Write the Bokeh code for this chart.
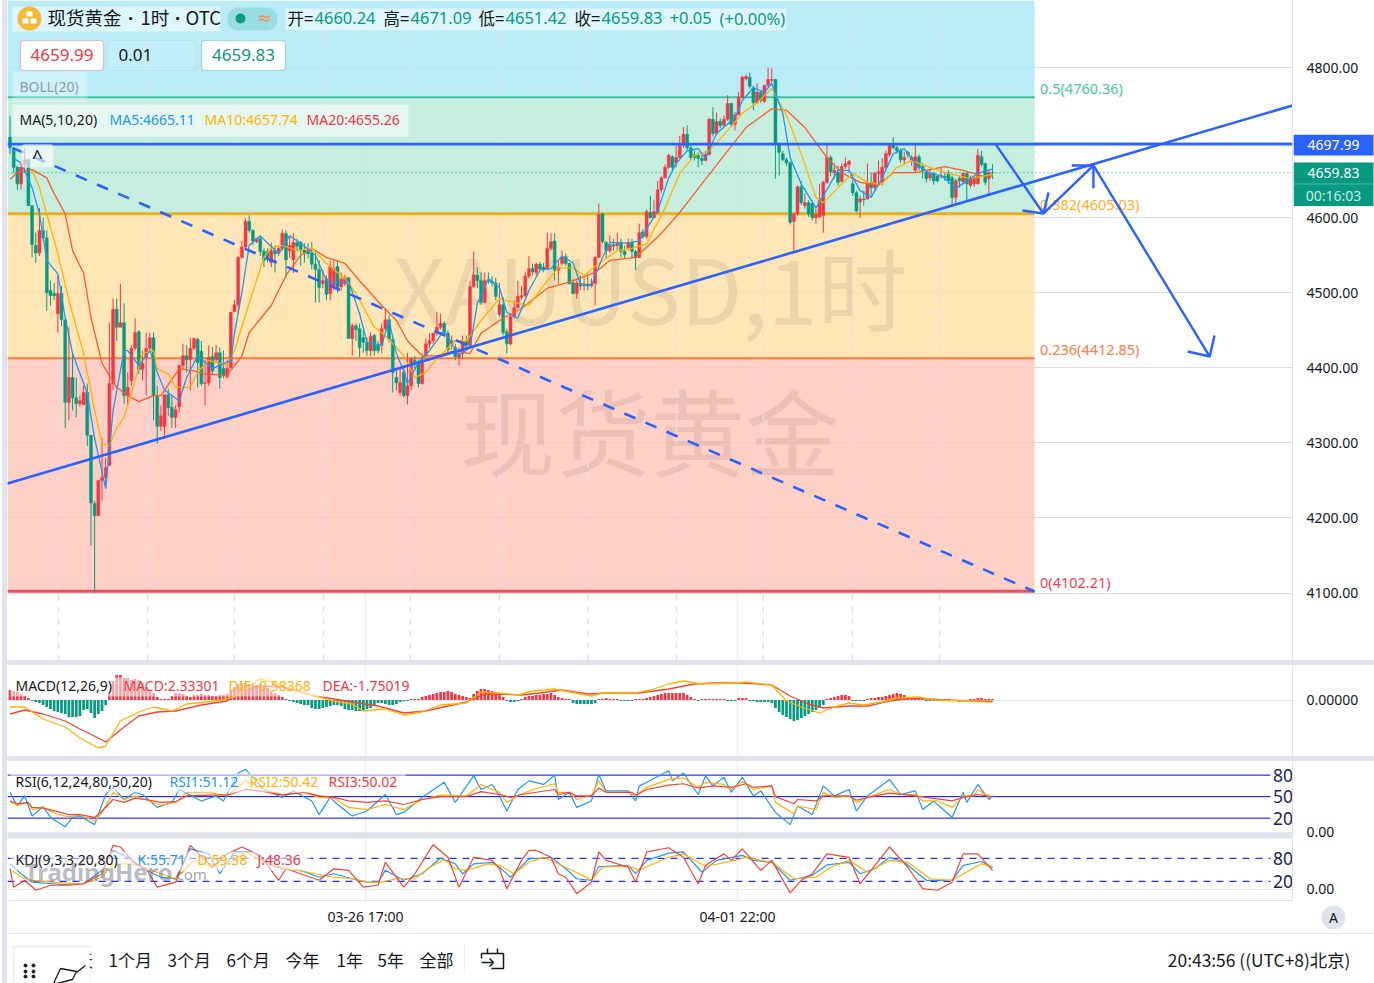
from bokeh.plotting import figure
from bokeh.layouts import column, row
from bokeh.models import (BoxAnnotation, ColumnDataSource, Div, FixedTicker, Label,
                          NumeralTickFormatter, Range1d, Spacer)
from bokeh.core.properties import value
from bokeh.embed import file_html
from bokeh.resources import INLINE

# ---------- candles (1h bars) ----------
opens = [
 4707,4692,4667,4645,4671,4677,4616,4563,4553,4583, 4573,4503,4499,4472,4499,4464,4354,4387,4360,4352,
 4351,4367,4310,4219,4203,4250,4254,4270,4379,4478, 4454,4460,4363,4383,4426,4448,4398,4414,4426,4440,
 4363,4322,4322,4364,4347,4334,4348,4403,4416,4411, 4426,4438,4422,4379,4380,4415,4411,4420,4399,4388,
 4400,4475,4484,4547,4561,4595,4583,4568,4572,4555, 4555,4540,4556,4553,4559,4579,4556,4544,4567,4567,
 4557,4556,4553,4538,4531,4512,4518,4499,4509,4535, 4508,4512,4520,4439,4456,4452,4440,4434,4423,4443,
 4430,4430,4452,4464,4438,4387,4367,4394,4363,4376, 4410,4406,4379,4416,4432,4436,4446,4454,4459,4446,
 4432,4427,4414,4419,4436,4430,4508,4523,4516,4487, 4516,4515,4513,4471,4484,4448,4432,4468,4480,4494,
 4496,4522,4532,4527,4538,4534,4532,4559,4569,4530, 4539,4548,4539,4513,4499,4512,4509,4511,4509,4512,
 4547,4605,4567,4556,4564,4563,4567,4555,4560,4567, 4555,4547,4581,4575,4607,4600,4607,4637,4653,4667,
 4681,4673,4680,4696,4711,4693,4684,4683,4679,4676, 4684,4731,4712,4728,4723,4731,4752,4724,4737,4760,
 4785,4787,4773,4753,4767,4755,4776,4783,4784,4697, 4685,4677,4673,4595,4605,4641,4616,4620,4619,4600,
 4601,4603,4647,4680,4660,4660,4648,4668,4671,4645, 4633,4621,4625,4625,4647,4640,4659,4647,4667,4684,
 4696,4693,4689,4677,4687,4676,4663,4681,4668,4660, 4653,4659,4655,4655,4655,4660,4653,4627,4652,4648,
 4659,4643,4645,4645,4681,4672,4652,4660.24]
closes = [
 4693,4667,4645,4667,4677,4616,4564,4553,4583,4573, 4500,4496,4496,4499,4464,4354,4387,4360,4352,4356,
 4367,4310,4220,4203,4250,4254,4267,4379,4478,4454, 4460,4363,4374,4426,4447,4398,4406,4426,4440,4363,
 4322,4336,4364,4347,4334,4344,4403,4416,4411,4426, 4439,4407,4379,4380,4414,4396,4420,4387,4390,4399,
 4474,4484,4547,4561,4595,4583,4569,4572,4555,4543, 4548,4556,4552,4559,4579,4544,4563,4567,4562,4556,
 4553,4552,4538,4531,4507,4516,4498,4535,4532,4507, 4518,4520,4439,4456,4451,4427,4434,4423,4442,4423,
 4423,4452,4464,4438,4394,4380,4380,4363,4376,4412, 4406,4379,4407,4432,4436,4446,4454,4459,4447,4424,
 4436,4415,4419,4436,4430,4508,4524,4516,4487,4516, 4515,4513,4495,4484,4447,4432,4468,4480,4495,4496,
 4522,4532,4528,4538,4532,4531,4559,4568,4530,4534, 4547,4539,4512,4499,4513,4509,4510,4509,4512,4547,
 4604,4568,4556,4564,4562,4566,4555,4551,4567,4555, 4547,4580,4575,4608,4600,4608,4637,4653,4667,4683,
 4667,4680,4696,4711,4693,4680,4680,4679,4676,4684, 4731,4712,4728,4723,4731,4752,4724,4737,4760,4787,
 4788,4775,4753,4767,4756,4776,4784,4784,4699,4687, 4677,4673,4594,4605,4641,4620,4620,4605,4600,4604,
 4625,4647,4680,4661,4663,4647,4668,4672,4675,4633, 4609,4625,4624,4647,4640,4659,4661,4667,4685,4696,
 4693,4689,4677,4680,4684,4680,4681,4667,4663,4652, 4659,4649,4649,4656,4653,4649,4627,4649,4649,4659,
 4645,4653,4653,4683,4671,4647,4660,4659.83]
highs = [
 4735,4693,4669,4672,4693,4679,4616,4580,4613,4600, 4583,4516,4513,4523,4509,4464,4454,4420,4387,4363,
 4376,4379,4310,4223,4250,4307,4280,4460,4492,4492, 4512,4486,4394,4430,4466,4450,4423,4447,4447,4447,
 4376,4350,4364,4372,4363,4350,4403,4432,4430,4440, 4440,4440,4436,4410,4430,4428,4430,4427,4423,4410,
 4474,4490,4549,4569,4599,4603,4585,4573,4575,4559, 4559,4567,4563,4563,4584,4583,4576,4579,4572,4569,
 4566,4566,4568,4556,4543,4530,4523,4543,4543,4543, 4527,4524,4520,4459,4459,4459,4450,4440,4447,4445,
 4436,4459,4479,4470,4439,4400,4400,4403,4420,4414, 4416,4410,4419,4439,4446,4447,4474,4472,4462,4450,
 4443,4432,4427,4443,4443,4516,4555,4534,4527,4527, 4527,4522,4520,4513,4494,4452,4471,4490,4516,4509,
 4527,4549,4539,4540,4541,4540,4580,4579,4579,4543, 4556,4552,4540,4518,4516,4523,4520,4523,4519,4549,
 4619,4607,4569,4576,4572,4580,4572,4563,4572,4572, 4557,4592,4585,4611,4629,4623,4649,4655,4671,4685,
 4683,4696,4709,4721,4723,4699,4689,4687,4684,4689, 4733,4747,4740,4732,4736,4763,4753,4741,4767,4789,
 4791,4793,4776,4779,4769,4777,4800,4799,4785,4699, 4689,4680,4675,4607,4643,4649,4632,4623,4623,4612,
 4645,4649,4700,4683,4672,4669,4672,4680,4677,4659, 4636,4629,4636,4672,4660,4661,4676,4679,4689,4697,
 4707,4696,4692,4688,4689,4683,4697,4684,4673,4663, 4665,4661,4657,4667,4660,4663,4656,4652,4655,4660,
 4661,4656,4656,4691,4689,4673,4663,4671.09]
lows = [
 4685,4659,4637,4637,4660,4616,4547,4540,4549,4569, 4476,4483,4490,4447,4456,4320,4330,4343,4334,4348,
 4350,4296,4163,4100,4203,4223,4239,4270,4370,4436, 4454,4352,4351,4376,4423,4392,4383,4363,4423,4330,
 4299,4316,4306,4336,4320,4320,4340,4399,4394,4370, 4423,4374,4376,4350,4376,4390,4407,4372,4386,4386,
 4400,4474,4472,4546,4560,4580,4563,4566,4549,4534, 4540,4534,4527,4549,4556,4520,4546,4526,4555,4536,
 4540,4546,4531,4487,4487,4506,4490,4490,4503,4500, 4503,4509,4439,4416,4436,4414,4420,4416,4416,4416,
 4419,4419,4450,4434,4367,4370,4363,4360,4351,4370, 4396,4374,4378,4415,4426,4432,4443,4451,4443,4420,
 4424,4410,4403,4412,4423,4427,4507,4506,4484,4486, 4512,4508,4490,4468,4443,4419,4430,4466,4479,4491,
 4494,4519,4523,4523,4530,4527,4531,4556,4516,4512, 4536,4536,4511,4498,4492,4503,4503,4503,4507,4483,
 4546,4566,4546,4553,4556,4556,4547,4546,4556,4546, 4530,4546,4572,4572,4599,4599,4605,4633,4652,4665,
 4663,4667,4679,4693,4689,4676,4676,4667,4670,4675, 4683,4708,4711,4719,4721,4729,4721,4716,4736,4759,
 4783,4772,4743,4752,4753,4753,4775,4780,4652,4656, 4675,4669,4591,4553,4603,4617,4612,4601,4596,4592,
 4600,4580,4645,4655,4652,4643,4647,4665,4660,4629, 4607,4600,4616,4624,4629,4636,4643,4643,4665,4681,
 4691,4685,4673,4672,4680,4669,4660,4663,4652,4647, 4649,4644,4647,4652,4649,4645,4616,4619,4640,4645,
 4623,4640,4641,4644,4668,4643,4629,4651.42]

# ---------- moving averages, read at the line's turning points ----------
ma20_x = [0,2,6,10,12,15,17,20,22,25,29,32,35,39,41,46,50,53,59,63,65,71,75,79,82,86,91,95,101,105,108,112,116,121,125,128,134,139,146,152,159,163,170,177,182,188,195,200,207,211,216,222,226,231,236,240,246,254,259,264,267]
ma20_y = [4651,4660,4664,4653,4632,4605,4556,4526,4467,4406,4374,4363,4355,4363,4363,4399,4396,4392,4390,4416,4447,4483,4523,4550,4559,4547,4539,4516,4483,4463,4436,4416,4416,4423,4419,4446,4466,4479,4506,4514,4527,4543,4547,4579,4607,4645,4689,4720,4745,4743,4720,4680,4660,4647,4643,4660,4660,4668,4663,4656,4655.26]
ma10_x = [6,8,10,13,16,20,23,25,27,29,31,34,36,39,40,43,45,49,51,54,59,61,65,69,71,74,78,82,86,91,94,99,101,105,107,110,113,116,121,124,128,133,137,141,146,149,153,156,160,165,169,173,178,182,186,190,195,199,203,207,211,215,219,221,225,229,233,237,241,245,250,255,261,267]
ma10_y = [4663,4640,4605,4552,4490,4419,4343,4299,4296,4320,4334,4383,4419,4423,4399,4392,4374,4374,4394,4410,4403,4423,4486,4547,4560,4563,4556,4559,4539,4519,4499,4454,4447,4427,4416,4387,4394,4412,4436,4436,4463,4492,4487,4483,4516,4533,4533,4523,4539,4556,4559,4565,4613,4659,4683,4689,4716,4739,4753,4772,4736,4685,4627,4620,4640,4659,4647,4645,4667,4676,4667,4659,4652,4657.74]
ma5_x = [1,3,6,8,10,13,15,17,21,23,26,28,31,32,35,38,40,42,46,48,51,55,60,61,63,65,68,70,73,76,79,83,86,90,92,95,97,101,103,105,107,108,111,114,118,122,125,127,130,133,135,138,141,144,147,150,153,155,158,161,163,168,171,176,179,181,184,187,189,192,197,199,202,205,207,210,212,215,219,221,225,228,231,234,237,240,243,246,250,253,257,261,263,267]
ma5_y = [4679,4673,4640,4605,4543,4525,4467,4419,4366,4306,4239,4343,4423,4423,4403,4423,4394,4370,4356,4387,4416,4399,4410,4446,4500,4563,4576,4566,4552,4576,4566,4550,4516,4512,4516,4472,4434,4430,4463,4419,4396,4379,4407,4423,4450,4416,4427,4486,4519,4507,4474,4466,4503,4530,4532,4549,4540,4512,4510,4547,4567,4566,4569,4609,4653,4672,4689,4692,4679,4712,4733,4756,4773,4767,4779,4739,4680,4645,4613,4629,4663,4663,4636,4627,4653,4685,4692,4672,4659,4656,4639,4652,4659,4665.11]

# ---------- MACD ----------
macd_hist = [
 10,9,8,6,4,2,-1,-2,-3,-5, -7,-9,-11,-12,-13,-14,-17,-17,-17,-16, -10,-9,-13,-18,-14,-11,-5,6,19,25,
 25,22,22,20,21,20,17,13,10,7, 3,1,1,1,4,7,7,6,4,3, 5,5,6,5,5,4,4,5,5,6, 9,13,16,17,17,16,15,15,16,14,
 12,9,7,5,3,1,-1,-2,-3,-4, -5,-5,-8,-9,-9,-8,-7,-6,-5,-5, -6,-9,-10,-10,-11,-11,-10,-9,-8,-6,
 -3,-3,-4,-5,-5,-4,-2,-1,-1,1, 1,1,3,4,5,6,7,8,8,9, 8,6,5,4,3,2,6,9,11,11, 10,9,8,7,
 3,-1,-2,-2,-1,1, 3,4,4,5,5,6,6,7, 5,3,2,1,1, -3,-4,-4,-4,-4,-4,-3, 1,1,2,1,1,1, -1,-1,-1,-1,1,1,
 1,2,3,4,5,6,7,7,7,7,7,7,5,3,1, -1, 1,1,1,1,1,1,1, -1,-1,-1, 2,2,2, -1,-1,-2,-2,-2,-2,
 -3,-8,-12,-15,-17,-19,-21,-20,-18,-16,-14,-12,-10,-8,-5, 1,2,3,4,5,5,4, -1,-1,-1,-1,
 1,2,2,3,3,4,5,6,7,6,5,3,2, 1,1,1,-1,-1,-1,-1,-1,1,1,-1,-1,-2,-1,-1,1,1,2,2,1,1,1]
dif_x = [0,4,9,15,19,24,26,30,35,39,44,48,56,61,68,73,79,88,93,96,102,107,112,117,124,128,133,138,142,148,152,158,161,170,174,179,183,188,197,200,207,211,215,220,224,228,232,237,241,247,251,260,267]
dif_y = [-7,-7,-19,-27,-38,-48,-46,-21,-12,-7,-11,-4,-1,3,21,16,8,-1,-4,-11,-9,-15,-12,-5,-3,8,7,5,9,11,8,4,7,7,10,16,19,16,17,18,15,-1,-7,-13,-7,-3,-5,-2,2,3,0,-1,-0.58]
dea_x = [0,4,9,15,19,24,26,31,35,40,45,52,59,63,68,74,83,93,100,107,113,119,124,129,133,139,144,150,157,162,171,179,186,191,199,207,212,217,221,228,233,239,245,254,267]
dea_y = [-14,-10,-14,-21,-29,-38,-42,-27,-16,-12,-11,-5,-1,8,14,13,4,-2,-6,-13,-11,-6,-2,6,6,5,7,10,6,7,7,11,16,17,17,15,4,-4,-8,-6,-6,-1,2,0,-1.75]

# ---------- RSI ----------
rsi_levels = [80, 50, 20]
rsi1_x = [0,2,4,6,9,11,15,17,19,23,26,28,31,34,36,40,44,46,52,56,58,62,64,69,74,77,82,84,87,89,93,97,102,105,107,112,118,121,126,128,131,133,135,138,141,145,148,149,152,154,158,160,162,168,170,171,173,179,180,183,187,189,191,194,196,199,202,204,208,212,214,218,221,224,228,230,233,239,242,246,248,251,256,259,260,263,266,267]
rsi1_y = [56,37,51,23,36,21,8,21,23,11,53,63,46,56,53,35,42,60,44,51,44,83,88,60,49,58,44,25,49,39,23,30,53,25,28,49,70,42,79,60,67,51,30,60,72,67,80,46,56,35,44,81,58,58,44,65,70,86,72,83,53,79,65,77,56,77,51,58,28,11,37,25,65,51,60,30,51,74,53,58,32,44,21,56,42,67,46,51.12]
rsi2_x = [0,2,5,6,9,13,16,19,23,25,28,31,34,38,41,45,48,54,59,64,69,74,80,84,88,92,97,102,107,112,117,124,128,133,135,138,142,148,149,152,154,158,160,162,168,170,173,179,183,187,189,194,196,199,202,207,208,213,214,219,221,224,228,230,233,239,242,246,248,252,256,259,262,263,266,267]
rsi2_y = [43,38,42,32,35,25,22,24,16,28,56,46,51,44,38,42,56,56,51,72,60,53,56,49,48,35,32,39,32,46,52,51,67,56,42,51,60,68,56,56,46,52,72,56,56,51,63,74,76,63,70,67,60,71,60,65,42,26,37,32,56,49,51,42,49,60,53,53,44,44,35,51,51,60,49,50.42]
rsi3_x = [0,2,5,6,9,13,16,19,23,25,28,31,34,38,41,45,48,54,59,64,69,74,80,84,88,92,97,102,107,112,117,124,128,133,136,139,148,149,152,154,158,160,162,169,170,173,179,183,187,191,196,200,202,207,208,213,214,219,221,228,230,233,239,246,249,256,259,263,267]
rsi3_y = [44,40,42,35,34,29,25,25,21,30,46,42,48,45,42,43,51,52,52,60,57,52,56,51,49,44,42,44,39,46,50,50,57,53,49,53,60,53,56,51,51,62,56,56,52,60,66,68,62,65,63,68,63,65,50,40,46,44,51,51,45,49,55,51,49,44,49,53,50.02]

# ---------- KDJ ----------
kdj_levels = [80, 20]
k_x = [0,3,6,14,20,25,28,32,35,39,41,45,49,54,57,61,66,70,74,79,84,88,93,97,100,102,107,112,117,121,123,126,131,133,136,141,147,151,154,158,160,168,170,173,179,183,188,192,199,202,207,212,218,222,228,231,235,239,243,249,256,259,264,267]
k_y = [66,40,18,12,14,49,101,83,62,40,31,27,105,92,40,97,97,66,53,49,31,40,27,18,18,49,23,40,81,66,40,66,70,57,31,79,83,53,27,23,59,62,40,75,94,97,44,75,88,75,70,23,36,63,70,40,53,83,70,23,23,62,72,55.71]
d_x = [0,3,6,14,20,25,28,33,36,41,45,50,55,59,64,70,76,83,88,93,97,101,105,110,114,118,121,124,130,133,137,141,145,151,158,161,168,171,179,183,189,197,200,207,213,219,223,228,233,239,244,250,256,264,267]
d_y = [53,31,23,16,14,31,66,66,57,40,27,75,57,66,97,66,53,40,31,27,18,18,27,27,57,77,53,49,66,62,40,70,83,57,24,57,60,50,83,92,59,75,83,70,27,31,57,75,44,75,70,27,23,66,59.38]
j_x = [0,1,4,7,11,16,20,25,28,30,34,37,40,45,49,55,59,63,68,73,75,84,88,92,96,100,102,107,110,115,119,122,126,131,133,135,139,141,143,147,149,151,154,158,160,162,168,170,173,179,183,187,189,194,196,199,204,207,212,215,218,222,228,231,234,239,244,248,252,256,259,263,267]
j_y = [53,5,23,-3,10,10,14,40,114,110,66,53,5,18,114,57,92,110,88,23,53,23,53,49,5,10,70,5,40,116,83,5,83,75,53,1,75,101,101,83,40,31,-12,18,97,75,57,18,97,108,83,14,62,92,75,105,49,75,-10,23,40,92,83,14,49,110,57,1,-3,18,92,92,48.36]

# ---------- levels, drawings, ticks ----------
fib_names = ["0", "0.236", "0.382", "0.5"]
fib_levels = [4102.21, 4412.85, 4605.03, 4760.36]
fib_band_colors = ["#ffc4b8", "#ffe0a4", "#b8ead6", "#a7e7f4"]
fib_line_colors = ["#f24c54", "#ff7a30", "#e4b21e", "#3cc4a0"]
fib_text_colors = ["#f04050", "#ff7a45", "#ffad1f", "#45c79e"]
fib_widths = [3, 2, 3, 2]
fib_end = 278.4
resistance = 4697.99
last_close = 4659.83
trend_x = [-0.7, 348.5]
trend_y = [4246, 4749.4]
dashed_x = [0.7, 278.4]
dashed_y = [4693, 4102]
path_x = [267.8, 280.8, 294.4, 326.0]
path_y = [4697.99, 4605.5, 4669.5, 4415]
heads_x = [[275.1, 280.8, 282.2], [288.5, 294.4, 294.4], [320.0, 326.0, 327.3]]
heads_y = [[4609.5, 4605.5, 4633.5], [4669.5, 4669.5, 4639], [4421.7, 4415, 4443]]
period_x = [13.2, 37.4, 61, 85.2, 108.8, 133, 157, 181.1, 204.7, 228.9, 252.6]
date_ticks = {96.6: "03-26 17:00", 197.7: "04-01 22:00"}
price_ticks = [4100, 4200, 4300, 4400, 4500, 4600, 4800]
price_grid = [4100, 4200, 4300, 4400, 4500, 4600, 4700, 4800]

UP, DOWN = "#f23645", "#089981"
BLUE, YEL, RED = "#2196f3", "#ffb300", "#f44336"
LINE = "#2962ff"
SEP = "#e0e3eb"
INK = "#131722"
LAT = "Noto Sans"
CJK = "Noto Sans CJK SC"
xr = Range1d(-0.68, 348.5)


def pane(height, yr, ticks, fmt, bottom_border=0, xaxis=False):
    p = figure(width=1367, height=height, x_range=xr, y_range=Range1d(*yr), output_backend="svg",
               toolbar_location=None, y_axis_location="right",
               x_axis_location="below" if xaxis else None,
               min_border_left=0, min_border_top=0, min_border_right=82, min_border_bottom=bottom_border,
               outline_line_color=None, background_fill_color="white", border_fill_color="white")
    ax = p.yaxis[0]
    ax.ticker = FixedTicker(ticks=ticks)
    ax.formatter = NumeralTickFormatter(format=fmt)
    ax.major_tick_line_color = None
    ax.minor_tick_line_color = None
    ax.major_tick_out = 0
    ax.major_tick_in = 0
    ax.minor_tick_out = 0
    ax.minor_tick_in = 0
    ax.axis_line_color = SEP
    ax.major_label_standoff = 14
    ax.major_label_text_font = LAT
    ax.major_label_text_font_size = "14px"
    ax.major_label_text_color = INK
    p.xgrid.ticker = FixedTicker(ticks=list(date_ticks))
    p.xgrid.grid_line_color = "#eceff5"
    p.xgrid.grid_line_width = 1.5
    p.ygrid.grid_line_color = "#e6e8ef"
    p.ygrid.ticker = FixedTicker(ticks=ticks)
    return p


def box(p, bottom, x0, y0, x1, y1, fill, alpha=1.0, line=None, radius=0, level="annotation", lw=1.2):
    p.add_layout(BoxAnnotation(left=x0 - 7, right=x1 - 7, top=bottom - y0, bottom=bottom - y1,
                               left_units="screen", right_units="screen", top_units="screen",
                               bottom_units="screen", fill_color=fill, fill_alpha=alpha,
                               line_color=line, line_width=lw, border_radius=radius, level=level))


def txt(p, bottom, text, x, y, size, color=INK, font=LAT, align="left", alpha=1.0, style="normal"):
    p.add_layout(Label(x=x - 7, y=bottom - y + 1, x_units="screen", y_units="screen", text=text,
                       text_font=font, text_font_size=f"{size}px", text_color=color, text_align=align,
                       text_baseline="middle", text_alpha=alpha, text_font_style=style))


# ================= main pane =================
H0 = 660
main = pane(H0, (4010.1, 4889.25), price_ticks, "0.00")
main.ygrid.ticker = FixedTicker(ticks=price_grid)
main.ygrid.grid_line_color = "#d9dce6"

band_tops = fib_levels[1:] + [4889.25]
main.quad(left=-0.68, right=fib_end, bottom=fib_levels, top=band_tops, fill_color=fib_band_colors,
          fill_alpha=0.8, line_color=None)
main.text(x=[174], y=[4509], text=["XAUUSD,1时"], text_font=value(CJK),
          text_font_size=value("90px"), text_color="#000000", text_alpha=0.075, text_align="center",
          text_baseline="middle")
main.text(x=[174], y=[4319], text=["现货黄金"], text_font=value(CJK),
          text_font_size=value("95px"), text_color="#000000", text_alpha=0.075, text_align="center",
          text_baseline="middle")
main.segment(x0=period_x, x1=period_x, y0=4010.1, y1=4889.25, line_color="#dde1ee", line_width=1.5,
             line_dash="6 6")
main.segment(x0=-0.68, x1=fib_end, y0=fib_levels, y1=fib_levels, line_color=fib_line_colors,
             line_width=fib_widths)
main.text(x=[279.9] * 4, y=fib_levels, text=[f"{n}({v:.2f})" for n, v in zip(fib_names, fib_levels)],
          text_color=fib_text_colors, text_font=value(LAT), text_font_size=value("14.5px"),
          text_baseline="middle", y_offset=-9.5)
main.segment(x0=-0.68, x1=348.5, y0=last_close, y1=last_close, line_color=DOWN, line_dash="1 3", line_width=1)

colors = [UP if c >= o else DOWN for o, c in zip(opens, closes)]
src = ColumnDataSource(dict(x=list(range(len(opens))), o=opens, c=closes, h=highs, l=lows, color=colors))
main.segment("x", "l", "x", "h", source=src, line_color="color", line_width=1)
main.vbar("x", 0.8, "o", "c", source=src, fill_color="color", line_color="color", line_width=0.5)

main.line(ma20_x, ma20_y, line_color="#ff5a2a", line_width=1.3)
main.line(ma10_x, ma10_y, line_color=YEL, line_width=1.3)
main.line(ma5_x, ma5_y, line_color=BLUE, line_width=1.3)

main.segment(x0=-0.68, x1=348.5, y0=resistance, y1=resistance, line_color=LINE, line_width=2.6)
main.line(trend_x, trend_y, line_color=LINE, line_width=2.6)
main.line(dashed_x, dashed_y, line_color=LINE, line_width=2.6, line_dash="12 11")
main.line(path_x, path_y, line_color=LINE, line_width=2.4)
main.multi_line(heads_x, heads_y, line_color=LINE, line_width=2.4)

# header
box(main, H0, 12, 6, 220, 31, "white", 0.5)
box(main, H0, 17, 6, 41, 30, "#f5b93a", 1, radius=12)
box(main, H0, 26, 11, 32, 16, "white", 1)
box(main, H0, 22, 18, 28, 23, "white", 1)
box(main, H0, 30, 18, 36, 23, "white", 1)
txt(main, H0, "现货黄金", 47, 17.5, 18.5, font=CJK)
txt(main, H0, "·", 130, 17.5, 18.5, align="center", style="bold")
txt(main, H0, "1时", 140, 17.5, 18.5, font=CJK)
txt(main, H0, "·", 177, 17.5, 18.5, align="center", style="bold")
txt(main, H0, "OTC", 185, 17.5, 18.5, font=CJK)
box(main, H0, 227, 7, 277, 30, "#089981", 0.18, radius=11)
box(main, H0, 235, 13, 245, 23, DOWN, 1, radius=5)
txt(main, H0, "≈", 264, 18, 18, color="#ff8a50", align="center", font="DejaVu Sans")
box(main, H0, 285, 8, 786, 30, "white", 0.5)
for label, x, col in [("开=", 287, INK), ("4660.24", 314, DOWN), ("高=", 383, INK), ("4671.09", 410, DOWN),
                      ("低=", 478, INK), ("4651.42", 505, DOWN), ("收=", 574, INK), ("4659.83", 601, DOWN),
                      ("+0.05", 669, DOWN), ("(+0.00%)", 719, DOWN)]:
    txt(main, H0, label, x, 18.5, 16.5, color=col, font=CJK if col == INK else LAT)
box(main, H0, 20, 40, 103, 70, "white", 1, line=UP, radius=4)
txt(main, H0, "4659.99", 61.5, 55, 17, color=UP, align="center")
box(main, H0, 107, 40, 195, 70, "white", 0.12, line="#b6ccd6", radius=4)
txt(main, H0, "0.01", 118, 55, 17)
box(main, H0, 201, 40, 285, 70, "white", 1, line=DOWN, radius=4)
txt(main, H0, "4659.83", 243, 55, 17, color=DOWN, align="center")
box(main, H0, 12, 71, 87, 102, "white", 0.3)
txt(main, H0, "BOLL(20)", 19, 87, 14, color="#8f9aa8")
box(main, H0, 12, 104, 408, 136, "white", 0.55)
txt(main, H0, "MA(5,10,20)", 19, 120, 14)
txt(main, H0, "MA5:4665.11", 109, 120, 14, color=BLUE)
txt(main, H0, "MA10:4657.74", 204, 120, 14, color=YEL)
txt(main, H0, "MA20:4655.26", 306, 120, 14, color=UP)
box(main, H0, 21, 144, 53, 167, "white", 0.6, line="#dfe3ea", radius=3)
txt(main, H0, "^", 37, 157, 19, align="center")

# ================= MACD =================
H1 = 756
macd = pane(91, (-56.5, 34.5), [0], "0.00000")
hx = list(range(len(macd_hist)))
macd.vbar(hx, 0.74, 0, macd_hist, fill_color=[UP if v > 0 else DOWN for v in macd_hist], line_color=None)
macd.line(dea_x, dea_y, line_color=RED, line_width=1.3)
macd.line(dif_x, dif_y, line_color=YEL, line_width=1.3)
box(macd, H1, 10, 677, 415, 696, "white", 0.55)
txt(macd, H1, "MACD(12,26,9)", 15, 686, 14)
txt(macd, H1, "MACD:2.33301", 123, 686, 14, color=UP)
txt(macd, H1, "DIF:-0.58368", 228, 686, 14, color=YEL)
txt(macd, H1, "DEA:-1.75019", 322, 686, 14, color=UP)

# ================= RSI =================
H2 = 841
rsi = pane(80, (-12.55, 99.0), [0], "0.00")
box(rsi, H2, 0, 832, 1367, 838, SEP, 1, level="underlay")
rsi.segment(x0=-0.68, x1=342.5, y0=rsi_levels, y1=rsi_levels, line_color="#0000ff", line_width=1)
rsi.line(rsi1_x, rsi1_y, line_color=BLUE, line_width=1.2)
rsi.line(rsi2_x, rsi2_y, line_color=YEL, line_width=1.2)
rsi.line(rsi3_x, rsi3_y, line_color=RED, line_width=1.2)
rsi.text(x=[343.2] * 3, y=rsi_levels, text=[str(v) for v in rsi_levels], text_color="#1b1f5e",
         text_font=value(LAT), text_font_size=value("17.5px"), text_baseline="middle")
box(rsi, H2, 10, 773, 405, 792, "white", 0.55)
txt(rsi, H2, "RSI(6,12,24,80,50,20)", 15, 782, 14)
txt(rsi, H2, "RSI1:51.12", 169, 782, 14, color=BLUE)
txt(rsi, H2, "RSI2:50.42", 249, 782, 14, color=YEL)
txt(rsi, H2, "RSI3:50.02", 328, 782, 14, color=UP)

# ================= KDJ + time axis =================
H3 = 900
kdj = pane(92, (-29.8, 124.3), [0], "0.00", bottom_border=33, xaxis=True)
xa = kdj.xaxis[0]
xa.ticker = FixedTicker(ticks=list(date_ticks))
xa.major_label_overrides = date_ticks
xa.major_tick_line_color = None
xa.minor_tick_line_color = None
xa.major_tick_out = 0
xa.major_tick_in = 0
xa.minor_tick_out = 0
xa.minor_tick_in = 0
xa.axis_line_color = SEP
xa.major_label_standoff = 6
xa.major_label_text_font = LAT
xa.major_label_text_font_size = "14px"
xa.major_label_text_color = INK
kdj.segment(x0=-0.68, x1=342.5, y0=kdj_levels, y1=kdj_levels, line_color="#2a2aff", line_width=1.2, line_dash="7 6")
kdj.line(k_x, k_y, line_color=BLUE, line_width=1.2)
kdj.line(d_x, d_y, line_color=YEL, line_width=1.2)
kdj.line(j_x, j_y, line_color=RED, line_width=1.2)
kdj.text(x=[343.2] * 2, y=kdj_levels, text=[str(v) for v in kdj_levels], text_color="#1b1f5e",
         text_font=value(LAT), text_font_size=value("17.5px"), text_baseline="middle")
box(kdj, H3, 10, 851, 310, 870, "white", 0.55)
txt(kdj, H3, "KDJ(9,3,3,20,80)", 15, 860, 14)
txt(kdj, H3, "K:55.71", 137, 860, 14, color=BLUE)
txt(kdj, H3, "D:59.38", 197, 860, 14, color=YEL)
txt(kdj, H3, "J:48.36", 257, 860, 14, color=UP)
txt(kdj, H3, "TradingHero", 24, 872, 24, color="#5f6672", alpha=0.45, style="bold")
txt(kdj, H3, ".com", 172, 874, 15, color="#5f6672", alpha=0.6)

# ================= bottom bar =================
bar = figure(width=1367, height=49, x_range=Range1d(7, 1374), y_range=Range1d(983, 934), output_backend="svg",
             toolbar_location=None, x_axis_location=None, y_axis_location=None,
             min_border=0, outline_line_color=None, background_fill_color="white", border_fill_color="white")
bar.grid.visible = False
period_labels = ["5天", "1个月", "3个月", "6个月", "今年", "1年", "5年", "全部"]
period_pos = [66, 108, 167, 226, 285, 336, 377, 419]
bar.text(x=period_pos, y=[959] * 8, text=period_labels, text_color=INK, text_font=value(CJK),
         text_font_size=value("17px"), text_baseline="middle")
bar.text(x=[1350], y=[959], text=["20:43:56 ((UTC+8)北京)"], text_color=INK, text_font=value(CJK),
         text_font_size=value("17.4px"), text_baseline="middle", text_align="right")
bar.segment(x0=464, x1=464, y0=945, y1=972, line_color="#eceef3", line_width=1)
bar.multi_line([[481, 503, 503, 491], [487, 487], [497, 497], [481, 481], [481, 493], [489, 493, 489]],
               [[953, 953, 968, 968], [948, 953], [948, 953], [953, 958], [962, 962], [958, 962, 966]],
               line_color=INK, line_width=1.5)
bar.quad(left=12, right=90, top=945, bottom=984, fill_color="#dfe1e6", fill_alpha=0.5, line_color=None)
bar.quad(left=14, right=89, top=947, bottom=984, fill_color="white", line_color=None)
bar.scatter(x=[25, 33, 25, 33, 25, 33], y=[965, 965, 971, 971, 976, 976], size=3, color=INK)
bar.multi_line([[53, 60, 76, 72, 57, 53], [76, 85]], [[983, 968, 971, 979, 983, 983], [972, 965]],
               line_color=INK, line_width=1.3)

# ================= overlays in the price column =================
def overlay(height, y0, y1):
    f = figure(width=81, height=height, x_range=Range1d(1293, 1374), y_range=Range1d(y1, y0), output_backend="svg",
               toolbar_location=None, x_axis_location=None, y_axis_location=None, min_border=0,
               outline_line_color=None, background_fill_color=None, border_fill_color=None)
    f.grid.visible = False
    return f


tags = overlay(72, 134, 206)
tags.quad(left=1293, right=1373, top=134, bottom=155, fill_color=LINE, line_color=None)
tags.quad(left=1293, right=1373, top=162, bottom=206, fill_color=DOWN, line_color=None)
tags.segment(x0=1293, x1=1373, y0=183.5, y1=183.5, line_color="#4fb8a6", line_width=1)
tags.text(x=[1333, 1333, 1333], y=[144, 172.5, 194.5], text=[f"{resistance:.2f}", f"{last_close:.2f}", "00:16:03"],
          text_color=["white", "white", "#cdeae4"], text_font=value(LAT), text_font_size=value("14px"),
          text_font_style="normal", text_align="center", text_baseline="middle")

band = overlay(6, 832, 838)
band.quad(left=[1293, 1349], right=[1318, 1374], top=832, bottom=838, fill_color=SEP, line_color=None)

abtn = overlay(26, 904, 930)
abtn.scatter(x=[1333], y=[917], size=24, fill_color=SEP, line_color=None)
abtn.text(x=[1333], y=[917], text=["A"], text_color=INK, text_font=value(LAT), text_font_size=value("14px"),
          text_align="center", text_baseline="middle")

side = column(Spacer(width=81, height=134, margin=0), tags,
              Spacer(width=81, height=626, margin=0), band,
              Spacer(width=81, height=66, margin=0), abtn,
              spacing=0, margin=(0, 0, 0, -81))


def sep(h, color=SEP):
    return Div(width=1367, height=h, margin=0, styles={"background": color})


strip = Div(width=7, height=983, margin=0,
            styles={"background": "linear-gradient(90deg,#fff 2px,#e0e3eb 2px)"})
panes = column(main, sep(5), macd, sep(5), rsi, kdj, spacing=0, margin=0)
stack = column(panes, sep(1), bar, spacing=0, margin=0)
page = row(strip, stack, side, spacing=0, margin=0)

print(len(opens), len(closes), len(highs), len(lows), len(macd_hist))
open("out.html", "w").write(file_html(page, INLINE))
